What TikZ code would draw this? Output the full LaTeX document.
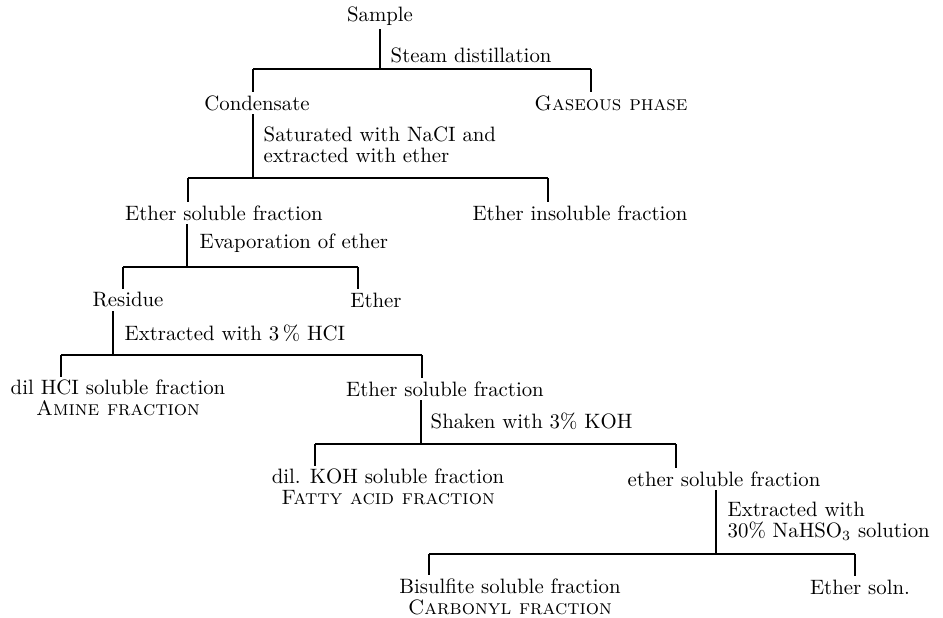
\documentclass[tikz,border=0pt]{standalone}
\usetikzlibrary{positioning,calc}

\begin{document}
\begin{tikzpicture}[x=0.5pt,y=-0.5pt,line width=0.7pt,
    every node/.style={font=\fontsize{10.4}{10.3}\selectfont},
    stage/.style={inner sep=1.5pt,align=center},
    treat/.style={anchor=west,inner sep=0pt,align=left}]
    \useasboundingbox (0,0) rectangle (943,617);
    % Fractions
    \node[stage] (sample) at (380,16) {Sample};
    \node[stage] (cond) at (257,103) {Condensate};
    \node[stage] (gas) at (611,103) {\textsc{Gaseous phase}};
    \node[stage] (esf) at (224,213) {Ether soluble fraction};
    \node[stage] (eif) at (580,213) {Ether insoluble fraction};
    \node[stage] (resid) at (128,300) {Residue};
    \node[stage] (ether) at (376,300) {Ether};
    \node[stage] (hclsol) at (118,398) {dil HCI soluble fraction\\\textsc{Amine fraction}};
    \node[stage] (esftwo) at (445,389) {Ether soluble fraction};
    \node[stage] (kohsol) at (388,487) {dil. KOH soluble fraction\\\textsc{Fatty acid fraction}};
    \node[stage] (esfthree) at (724,479) {ether soluble fraction};
    \node[stage] (bisol) at (510,597) {Bisulfite soluble fraction\\\textsc{Carbonyl fraction}};
    \node[stage] (esoln) at (860,587) {Ether soln.};
    % Treatments
    \node[treat] (steam) at (390,55) {Steam distillation};
    \node[treat] (nacl) at (263,145) {Saturated with NaCI and\\extracted with ether};
    \node[treat] (evap) at (199,243) {Evaporation of ether};
    \node[treat] (hcl) at (124,333) {Extracted with 3\,\% HCI};
    \node[treat] (koh) at (430,421) {Shaken with 3\% KOH};
    \node[treat] (bisulf) at (727,521) {Extracted with\\30\% NaHSO$_3$ solution};
    % Splits
    \foreach \src/\sx/\barY/\lx/\rx/\kidL/\kidR in {
        sample/380/69/253/591/cond/gas,
        cond/253/178/188/548/esf/eif,
        esf/187/267/123/358/resid/ether,
        resid/113/355/61/422/hclsol/esftwo,
        esftwo/421/444/315/676/kohsol/esfthree,
        esfthree/716/554/429/855/bisol/esoln} {
        \coordinate (s\src) at (\sx,\barY);
        \coordinate (l\src) at (\lx,\barY);
        \coordinate (r\src) at (\rx,\barY);
        \draw (\src.south -| s\src) -- (s\src);
        \draw (l\src) -- (r\src);
        \draw (l\src) -- (l\src |- \kidL.north);
        \draw (r\src) -- (r\src |- \kidR.north);
    }
\end{tikzpicture}
\end{document}
